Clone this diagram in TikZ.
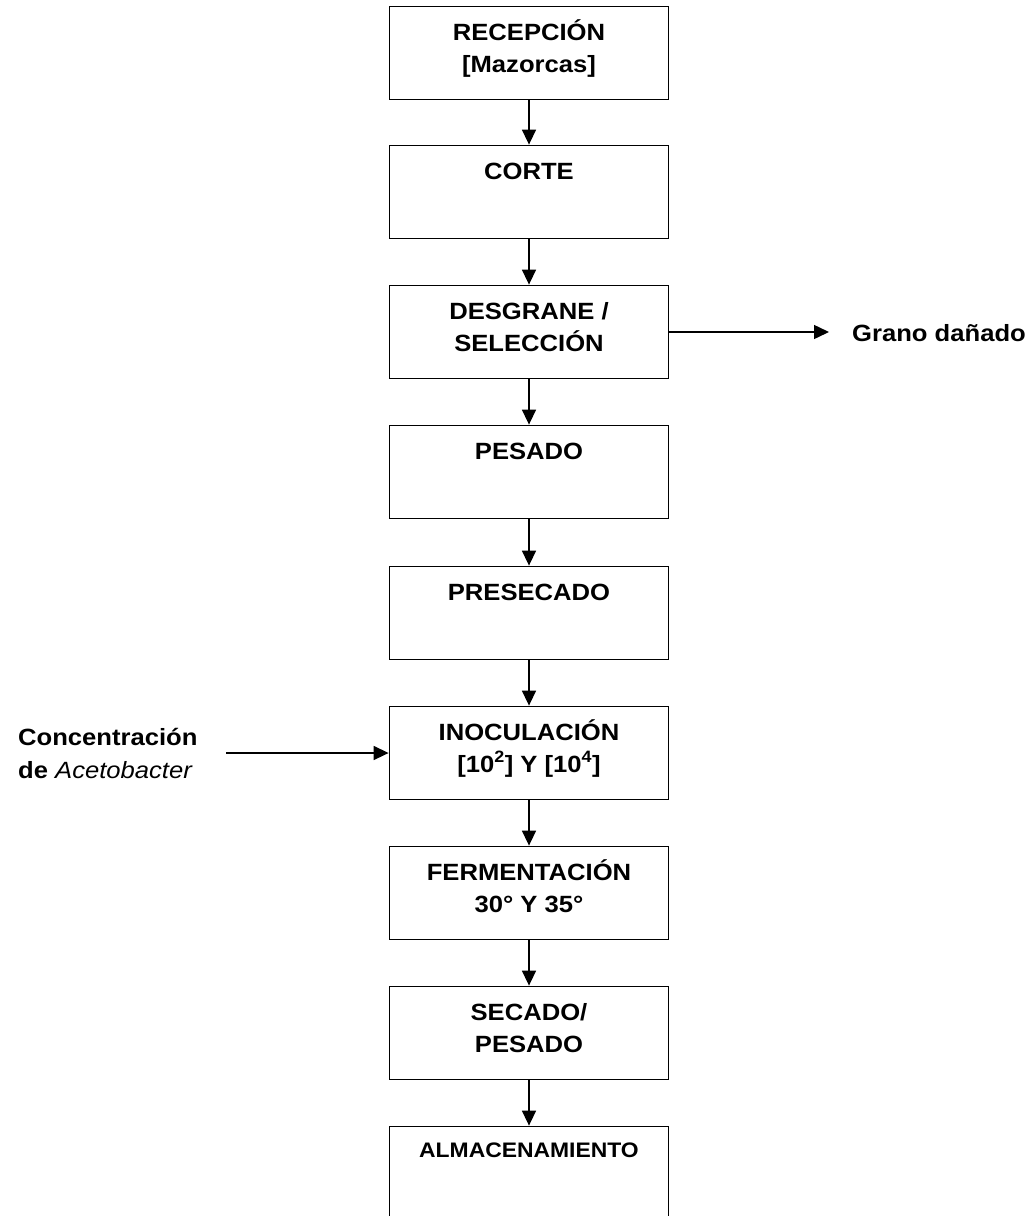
\documentclass[tikz,border=0pt]{standalone}
\usepackage{fontspec}
\setmainfont{Liberation Sans}[FakeStretch=1.09]
\usetikzlibrary{arrows.meta, positioning}

% texto arriba dentro de cada caja
\newcommand{\textoetapa}[2][33pt]{\parbox[c][92pt][t]{276pt}{\centering\rule{0pt}{#1}#2}}

\begin{document}
\begin{tikzpicture}[
    x=1pt, y=-1pt,
    etapa/.style={rectangle, draw, line width=1.8pt, minimum width=279pt, minimum height=93pt, inner sep=0pt, font=\fontsize{23.5}{32}\selectfont\bfseries},
    flecha/.style={draw, line width=1.5pt, -{Triangle[width=14pt,length=15pt]}},
    lado/.style={inner sep=0pt, font=\fontsize{23.5}{33}\selectfont\bfseries}
]
    \useasboundingbox (0,0) rectangle (1033,1216);

    \node[etapa] (recepcion) at (529,53) {\textoetapa{RECEPCIÓN\\ {[Mazorcas]}}};
    \node[etapa] (corte) at (529,192) {\textoetapa{CORTE}};
    \node[etapa] (desgrane) at (529,332) {\textoetapa{DESGRANE /\\ SELECCIÓN}};
    \node[etapa] (pesado) at (529,472) {\textoetapa{PESADO}};
    \node[etapa] (presecado) at (529,613) {\textoetapa{PRESECADO}};
    \node[etapa] (inoculacion) at (529,753) {\textoetapa{INOCULACIÓN\\ {[10\textsuperscript{2}] Y [10\textsuperscript{4}]}}};
    \node[etapa] (fermentacion) at (529,893) {\textoetapa{FERMENTACIÓN\\ 30° Y 35°}};
    \node[etapa] (secado) at (529,1033) {\textoetapa{SECADO/\\ PESADO}};
    \node[etapa] (almacenamiento) at (529,1173) {\textoetapa[30pt]{\fontsize{21}{28}\selectfont ALMACENAMIENTO}};

    \foreach \a/\b in {recepcion/corte, corte/desgrane, desgrane/pesado, pesado/presecado,
        presecado/inoculacion, inoculacion/fermentacion, fermentacion/secado, secado/almacenamiento}
        \draw[flecha] (\a.south) -- (\b.north);

    % salida lateral
    \node[lado, anchor=west] (grano) at (852,333) {Grano dañado};
    \draw[flecha, shorten >=23pt] (desgrane.east) -- (desgrane.east -| grano.west);

    % entrada lateral
    \node[lado, anchor=west, align=left] (concentracion) at (18,753) {Concentración\\ de \textit{\mdseries Acetobacter}};
    \coordinate (conc-ini) at (226,753);
    \draw[flecha] (conc-ini) -- (inoculacion.west);
\end{tikzpicture}
\end{document}
